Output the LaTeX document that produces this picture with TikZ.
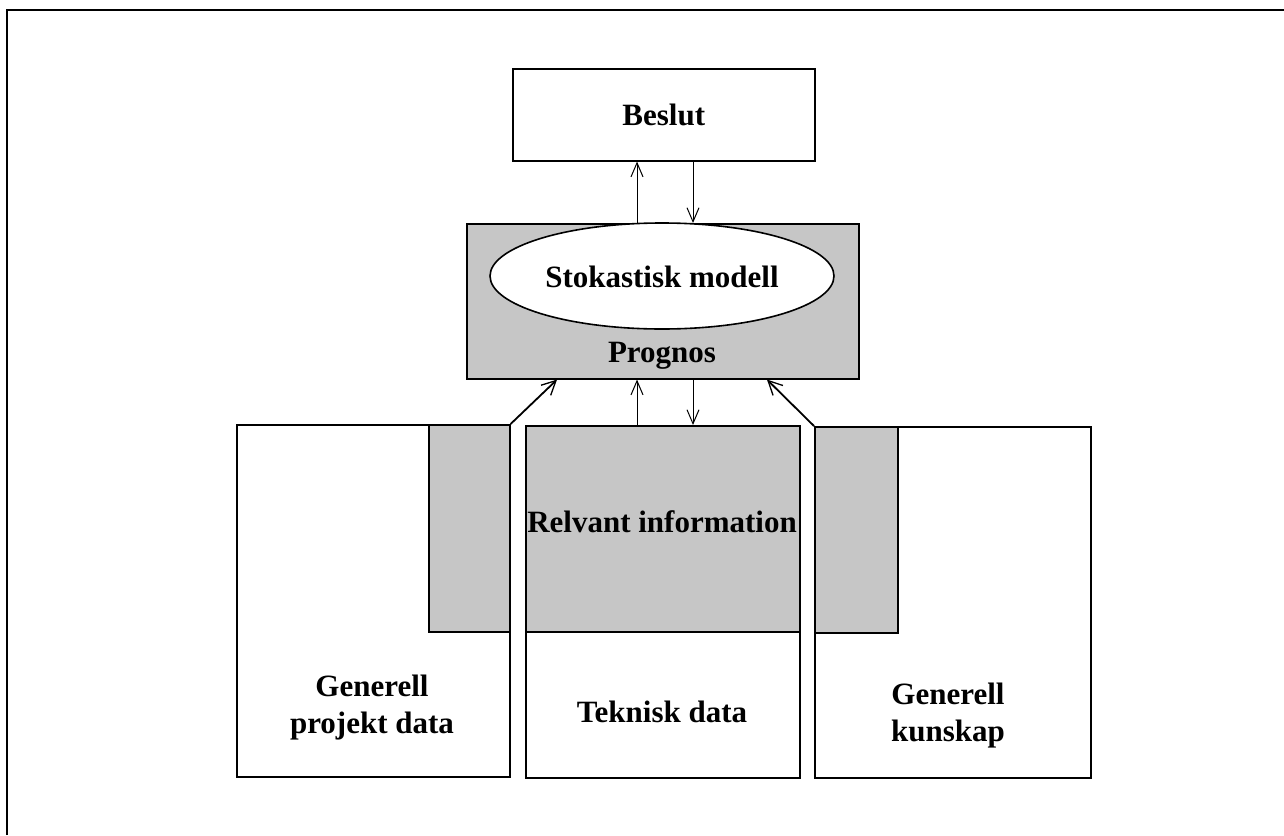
\documentclass[tikz,border=0pt]{standalone}
\usepackage{fontspec}
\setmainfont{Liberation Serif}
\usetikzlibrary{arrows.meta,shapes.geometric}
\begin{document}
\begin{tikzpicture}[x=1pt,y=-1pt,
  box/.style={draw=black,line width=1.6pt,inner sep=0pt,anchor=north west},
  shade/.style={fill=gray!45},
  lbl/.style={font=\fontsize{31}{37}\selectfont\bfseries,align=center,inner sep=0pt},
  arr/.style={line width=1pt,-{Straight Barb[length=14pt,width=12pt,line width=1pt]}},
  darr/.style={line width=1.8pt,-{Straight Barb[length=14pt,width=14pt,line width=1.3pt]}}]
\useasboundingbox (0,0) rectangle (1284,835);
% frame
\draw[line width=2pt] (7,835) -- (7,10) -- (1284,10);
% top boxes
\node[box,minimum width=302pt,minimum height=92pt] (beslut) at (512,68) {};
\node[lbl] at (beslut.center) {Beslut};
\node[box,shade,minimum width=392pt,minimum height=155pt] (prog) at (466,223) {};
\node[draw=black,line width=1.6pt,fill=white,ellipse,minimum width=344pt,minimum height=106pt,inner sep=0pt] (model) at (662,276) {};
\node[lbl] at (662,277) {Stokastisk modell};
\node[lbl] (prognos) at (662,356) {Prognos};
% bottom boxes
\node[box,minimum width=273pt,minimum height=352pt] (gpd) at (236,424) {};
\node[box,shade,minimum width=81pt,minimum height=207pt] (gpds) at (428,424) {};
\node[box,minimum width=274pt,minimum height=352pt] (tek) at (525,425) {};
\node[box,shade,minimum width=274pt,minimum height=206pt] (teks) at (525,425) {};
\node[box,minimum width=276pt,minimum height=351pt] (gk) at (814,426) {};
\node[box,shade,minimum width=83pt,minimum height=206pt] (gks) at (814,426) {};
\node[lbl] at (662,522) {Relvant information};
\node[lbl] at (372,708) {Generell\\projekt data};
\node[lbl] at (662,712) {Teknisk data};
\node[lbl] at (948,716) {Generell\\kunskap};
% connectors
\coordinate (ux) at (637,0);
\coordinate (dx) at (693,0);
\draw[arr] (prog.north -| ux) -- (beslut.south -| ux);
\draw[arr] (beslut.south -| dx) -- (prog.north -| dx);
\draw[arr] (teks.north -| ux) -- (prog.south -| ux);
\draw[arr] (prog.south -| dx) -- (teks.north -| dx);
\draw[darr] (gpd.north east) -- (prog.south -| 557,0);
\draw[darr] (gk.north west) -- (prog.south -| 767,0);
\end{tikzpicture}
\end{document}
